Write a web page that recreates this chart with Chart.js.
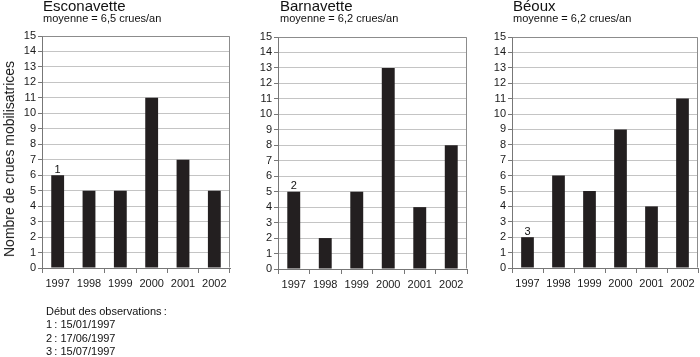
<!DOCTYPE html>
<html><head><meta charset="utf-8">
<script src="https://cdn.jsdelivr.net/npm/chart.js@4"></script>
<style>
body{margin:0;background:#fff;font-family:"Liberation Sans",Arial,sans-serif;}
#wrap{position:relative;width:700px;height:357px;overflow:hidden;background:#fff}
canvas{position:absolute;left:0;top:0}
.t{position:absolute;color:#111;white-space:nowrap}
.ttl{font-size:15px;line-height:15px}
.sub{font-size:11px;line-height:11px}
#foot{font-size:11px;line-height:13.4px;left:46px;top:305px}
#ytitle{font-size:14px;line-height:14px;color:#1a1a1a;left:8.5px;top:159px;transform:translate(-50%,-50%) rotate(-90deg)}
</style></head><body>
<div id="wrap">
<canvas id="c0" width="700" height="357"></canvas>
<canvas id="c1" width="700" height="357"></canvas>
<canvas id="c2" width="700" height="357"></canvas>
</div>
<script>
// ---- data ----
const years = ['1997', '1998', '1999', '2000', '2001', '2002'];
const esconavette = [6, 5, 5, 11, 7, 5];
const barnavette = [5, 2, 5, 13, 4, 8];
const beoux = [2, 6, 5, 9, 4, 11];
const stations = ['Esconavette', 'Barnavette', 'Béoux'];
const means = ['6,5', '6,2', '6,2'];
const noteMarks = ['1', '2', '3'];
const startDates = ['15/01/1997', '17/06/1997', '15/07/1997'];
const yMax = 15;
const yAxisTitle = 'Nombre de crues mobilisatrices';
const footTitle = 'Début des observations\u202F:';

// ---- layout (plot boxes) ----
const series = [esconavette, barnavette, beoux];
const boxes = [
  {L: 42, R: 230, T: 36, B: 268, yw: 42},
  {L: 278, R: 467, T: 37, B: 269, yw: 40},
  {L: 512, R: 698, T: 37, B: 268, yw: 40}
];
const XH = 30;
const FONT = '"Liberation Sans", Arial, sans-serif';

const wrap = document.getElementById('wrap');
function addText(cls, txt, left, top, id) {
  const d = document.createElement('div');
  d.className = 't ' + cls;
  if (id) d.id = id;
  d.textContent = txt;
  if (left !== null) d.style.left = left + 'px';
  if (top !== null) d.style.top = top + 'px';
  wrap.appendChild(d);
  return d;
}
const titleLefts = [43, 280, 513];
stations.forEach((s, i) => {
  addText('ttl', s, titleLefts[i], -2);
  addText('sub', 'moyenne = ' + means[i] + ' crues/an', titleLefts[i], 13.4);
});
addText('', yAxisTitle, null, null, 'ytitle');
const foot = document.createElement('div');
foot.className = 't';
foot.id = 'foot';
foot.innerHTML = [footTitle].concat(startDates.map((d, i) => noteMarks[i] + '\u202F: ' + d)).join('<br>');
wrap.appendChild(foot);

const framePlugin = {
  id: 'frame',
  beforeDatasetsDraw(chart) {
    const a = chart.chartArea, ctx = chart.ctx;
    ctx.save();
    ctx.strokeStyle = '#8c8c8c';
    ctx.lineWidth = 1;
    ctx.beginPath();
    const l = Math.round(a.left) + 0.5, r = Math.round(a.right) - 0.5, t = Math.round(a.top) + 0.5, b = Math.round(a.bottom) - 0.5;
    ctx.moveTo(l, t); ctx.lineTo(r, t); ctx.lineTo(r, b);
    ctx.stroke();
    ctx.restore();
  }
};
const notePlugin = {
  id: 'note',
  afterDatasetsDraw(chart, args, opts) {
    const el = chart.getDatasetMeta(0).data[0];
    const ctx = chart.ctx;
    ctx.save();
    ctx.fillStyle = '#111';
    ctx.font = '11px ' + FONT;
    ctx.textAlign = 'center';
    ctx.textBaseline = 'alphabetic';
    ctx.fillText(opts.mark, el.x, el.y - 2.5);
    ctx.restore();
  }
};

series.forEach((vals, i) => {
  const bx = boxes[i];
  new Chart(document.getElementById('c' + i), {
    type: 'bar',
    data: {
      labels: years,
      datasets: [{data: vals, backgroundColor: '#231f20', borderWidth: 0,
        categoryPercentage: 1, barPercentage: 0.41}]
    },
    plugins: [framePlugin, notePlugin],
    options: {
      responsive: false, animation: false, devicePixelRatio: 1,
      layout: {padding: {left: bx.L - bx.yw, right: 700 - bx.R, top: bx.T, bottom: 357 - bx.B - XH}},
      plugins: {legend: {display: false}, tooltip: {enabled: false}, note: {mark: noteMarks[i]}},
      scales: {
        x: {
          afterFit(s) { s.height = XH; },
          grid: {display: true, drawOnChartArea: false, offset: true, tickLength: 5, tickColor: '#777'},
          border: {color: '#777', width: 1},
          ticks: {color: '#1a1a1a', padding: 4, font: {family: FONT, size: 11}, maxRotation: 0, autoSkip: false}
        },
        y: {
          min: 0, max: yMax,
          afterFit(s) { s.width = bx.yw; },
          grid: {color: '#c4c4c4', tickLength: 4, tickColor: '#777'},
          border: {color: '#777', width: 1},
          ticks: {stepSize: 1, autoSkip: false, color: '#1a1a1a', padding: 2, font: {family: FONT, size: 11}}
        }
      }
    }
  });
});
</script>
</body></html>
